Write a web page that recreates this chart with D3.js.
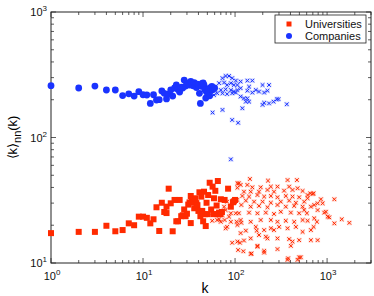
<!DOCTYPE html>
<html>
<head>
<meta charset="utf-8">
<script src="https://cdn.jsdelivr.net/npm/d3@7"></script>
<style>
  body { margin: 0; background: #fff; }
  text { font-family: "Liberation Sans", Arial, sans-serif; }
</style>
</head>
<body>
<svg id="chart"></svg>
<script>
// data: [k, <k>nn(k)]
const companiesDots = [
  [1,259],[2,248],[3,257],[4,239],[5,239],[6,216],[7,223],[8,214],[9,232],[10,219],
  [11,218],[12,187],[13,219],[14,199],[15,200],[16,235],[17,225],[18,203],[19,222],[20,239],
  [21,214],[22,248],[23,262],[24,241],[25,230],[26,252],[27,248],[28,287],[29,257],[30,265],
  [31,272],[32,262],[33,280],[34,268],[35,258],[36,274],[37,262],[38,250],[39,266],[40,262],
  [41,225],[42,187],[43,256],[44,270],[45,272],[46,262],[47,240],[48,206],[49,230],[51,236],
  [52,245],[53,215],[54,250],[56,255],[57,240],[60,248]
];
const companiesCross = [
  [79,309],[86,309],[73,297],[93,297],[102,284],[115,279],[136,284],[154,284],[199,262],[234,262],
  [67,271],[76,274],[82,262],[90,271],[97,262],[106,262],[70,239],[79,242],[90,239],[97,232],
  [106,239],[115,247],[142,254],[168,239],[182,232],[207,228],[225,236],[136,236],[154,228],[61,239],
  [64,225],[73,225],[82,222],[93,225],[102,228],[59,218],[115,212],[125,205],[136,205],[131,193],
  [142,193],[207,189],[199,182],[234,187],[262,193],[284,202],[297,202],[365,184],[120,171],[73,166],
  [57,158],[93,138],[108,131],[90,67]
];
const universitiesSquares = [
  [1,17.3],[2,17.7],[3,17.7],[4,19.8],[5,17.9],[6,18.3],[7,20.7],[8,20],[9,23.4],[10,23.4],
  [11,22.9],[12,20.7],[13,22.3],[14,27.8],[15,18],[16,30.2],[17,25.5],[18,28.1],[19,39.1],[20,29.9],
  [21,17.9],[22,31.8],[23,21.5],[24,21.5],[25,31.8],[26,23.6],[27,24],[28,26.7],[29,23.6],[30,24.7],
  [31,29.2],[32,30.4],[33,34.2],[34,31],[35,30.5],[36,27.3],[37,32.8],[38,30],[39,28.9],[40,26],
  [41,36.6],[42,23.6],[43,33.8],[44,26],[45,21.5],[46,37],[47,24.5],[48,19.7],[49,30.2],[50,24.5],
  [51,34.8],[53,43.6],[55,26.7],[57,40.6],[58,24.5],[59,32.8],[61,37.6],[63,28.7],[64,24.5],[65,45],
  [67,25.2],[69,24.5],[70,32.2],[72,25.5],[77,31.8],[84,39.1],[90,28.1],[95,30.5],[97,31],[100,31.8],
  [33,20.8],[18,25]
];
const universitiesCross = [
  [145,46.7],[110,43.2],[136,41.9],[228,45.3],[372,45.8],[470,45.8],[106,39.8],[154,40.1],[190,40.1],[245,40.6],
  [289,40.6],[387,40.6],[125,37],[148,37],[182,37],[225,38.2],[265,37],[341,37.7],[421,38.2],[478,39.4],
  [542,37.5],[614,34.8],[696,35.5],[120,34.2],[142,33.8],[175,34.8],[207,33.8],[245,34.2],[289,33.4],[356,34.2],
  [421,33.8],[497,33.4],[106,31.8],[97,30.8],[131,31.4],[161,30.8],[199,30.8],[245,30.2],[314,30.8],[387,31.4],
  [458,30.2],[564,30.8],[857,32.2],[117,29],[148,28.1],[182,28.5],[225,27.8],[289,29],[356,28.1],[439,28.5],
  [542,28.1],[725,29],[789,29.9],[110,24.9],[142,25.2],[175,24.9],[216,25.2],[265,24.6],[314,25.6],[404,25.2],
  [497,24.9],[564,26.4],[789,26.4],[931,25.2],[1015,23.4],[1199,20.7],[1443,22.3],[1746,20.9],[115,22],[148,21.3],
  [190,22],[245,22],[289,21.3],[356,21.7],[439,21.3],[542,22],[614,21.7],[776,21.3],[90,21.3],[56.5,21.7],
  [70,21.3],[79,18.9],[106,20.1],[131,18.1],[168,19.4],[207,18.3],[245,18.9],[301,19.4],[372,18.9],[458,19.4],
  [542,17.7],[667,18.3],[667,15.2],[789,15.2],[93,14.5],[113,14.5],[148,15.7],[182,16.7],[216,16.2],[289,15.7],
  [387,15.5],[421,14.8],[497,15.2],[108,12.7],[123,12.4],[148,11.8],[175,13.7],[207,12.5],[289,12.9],[404,13.7],
  [377,10.9],[478,10.6],[497,11.1],[86,23.4],[79,26.4],[90,24.9],[82,30.8],[76,28.1],[64,22],[56.5,24.9],
  [73,24.1],[104,21.3],[151,11.9],[207,12.1],[372,10.6],[519,11.1],[972,25.6],[1057,23.1],[1199,32.2],[714,19.4],
  [225,15.7],[175,13.5],[125,15.1],[106,14.8],[172,18.1],[265,18.3],[604,24.9],[667,28.1],[714,35.9],[656,35.9],
  [614,32.8],[895,29.9],[725,22.7],[106,43.2],[115,41.9],[102,24.9],[117,20.9],[82,19.4],[77,22],[67,22.3],
  [115,17.3]
];
const xTickValues = [1, 10, 100, 1000];
const yTickValues = [10, 100, 1000];
const legendLabels = ["Universities", "Companies"];

const W = 374, H = 296;
const margin = { top: 12, right: 3, bottom: 33, left: 51 };
const width = W - margin.left - margin.right,
      height = H - margin.top - margin.bottom;

const red = "#ff2a00", blue = "#1a33ff";

const svg = d3.select("#chart").attr("width", W).attr("height", H);
const g = svg.append("g").attr("transform", `translate(${margin.left},${margin.top})`);

const x = d3.scaleLog().domain([1, 3000]).range([0, width]);
const y = d3.scaleLog().domain([10, 1000]).range([height, 0]);

// minor + major ticks, inward, on all four sides
function allTicks(scale) {
  const [a, b] = scale.domain();
  const out = [];
  for (let e = Math.floor(Math.log10(a)); e <= Math.ceil(Math.log10(b)); e++) {
    for (let m = 1; m < 10; m++) {
      const v = m * Math.pow(10, e);
      if (v >= a && v <= b) out.push({ v, major: m === 1 });
    }
  }
  return out;
}
const tickG = g.append("g").attr("stroke", "#333").attr("stroke-width", 0.8);
allTicks(x).forEach(t => {
  const px = x(t.v), len = t.major ? 5 : 3;
  tickG.append("line").attr("x1", px).attr("x2", px).attr("y1", height).attr("y2", height - len);
  tickG.append("line").attr("x1", px).attr("x2", px).attr("y1", 0).attr("y2", len);
});
allTicks(y).forEach(t => {
  const py = y(t.v), len = t.major ? 5 : 3;
  tickG.append("line").attr("y1", py).attr("y2", py).attr("x1", 0).attr("x2", len);
  tickG.append("line").attr("y1", py).attr("y2", py).attr("x1", width).attr("x2", width - len);
});

// frame
g.append("rect").attr("width", width).attr("height", height)
  .attr("fill", "none").attr("stroke", "#222").attr("stroke-width", 1);

// tick labels 10^n
function powLabel(sel, v) {
  sel.append("tspan").text("10");
  sel.append("tspan").attr("dy", -5).attr("font-size", 8).text(Math.round(Math.log10(v)));
}
xTickValues.forEach(v => {
  const t = g.append("text").attr("x", x(v) + 1).attr("y", height + 17)
    .attr("text-anchor", "middle").attr("font-size", 11).attr("fill", "#111");
  powLabel(t, v);
});
yTickValues.forEach(v => {
  const t = g.append("text").attr("x", -4).attr("y", y(v) + 4)
    .attr("text-anchor", "end").attr("font-size", 11).attr("fill", "#111");
  powLabel(t, v);
});

// axis titles
g.append("text").attr("x", 154).attr("y", height + 30)
  .attr("text-anchor", "middle").attr("font-size", 14).text("k");

const yl = svg.append("text").attr("transform", `translate(17,${margin.top + height / 2}) rotate(-90)`)
  .attr("text-anchor", "middle").attr("font-size", 13);
yl.append("tspan").text("\u27E8k\u27E9");
yl.append("tspan").attr("dy", 4).attr("font-size", 11).text("nn");
yl.append("tspan").attr("dy", -4).text("(k)");

// crosses
function crosses(data, color) {
  const cg = g.append("g");
  data.forEach(d => {
    const c = cg.append("g").attr("transform", `translate(${x(d[0])},${y(d[1])})`);
    c.append("rect").attr("x", -2.5).attr("y", -2.5).attr("width", 5).attr("height", 5)
      .attr("fill", color).attr("fill-opacity", 0.15);
    c.append("path").attr("d", "M-1.8,-1.8L1.8,1.8M-1.8,1.8L1.8,-1.8")
      .attr("stroke", color).attr("stroke-width", 1).attr("fill", "none");
  });
}
crosses(universitiesCross, red);
crosses(companiesCross, blue);

g.append("g").selectAll("rect").data(universitiesSquares).join("rect")
  .attr("x", d => x(d[0]) - 3).attr("y", d => y(d[1]) - 3)
  .attr("width", 6).attr("height", 6).attr("fill", red);

g.append("g").selectAll("circle").data(companiesDots).join("circle")
  .attr("cx", d => x(d[0])).attr("cy", d => y(d[1])).attr("r", 3.4).attr("fill", blue);

// legend
const lg = svg.append("g").attr("transform", "translate(275,15)");
lg.append("rect").attr("width", 91).attr("height", 28).attr("fill", "#fff")
  .attr("stroke", "#222").attr("stroke-width", 0.8);
lg.append("rect").attr("x", 11.5).attr("y", 6.5).attr("width", 5).attr("height", 5).attr("fill", red);
lg.append("circle").attr("cx", 14).attr("cy", 21).attr("r", 3).attr("fill", blue);
legendLabels.forEach((s, i) => {
  lg.append("text").attr("x", 30).attr("y", 13 + i * 12).attr("font-size", 11).attr("fill", "#111").text(s);
});
</script>
</body>
</html>
